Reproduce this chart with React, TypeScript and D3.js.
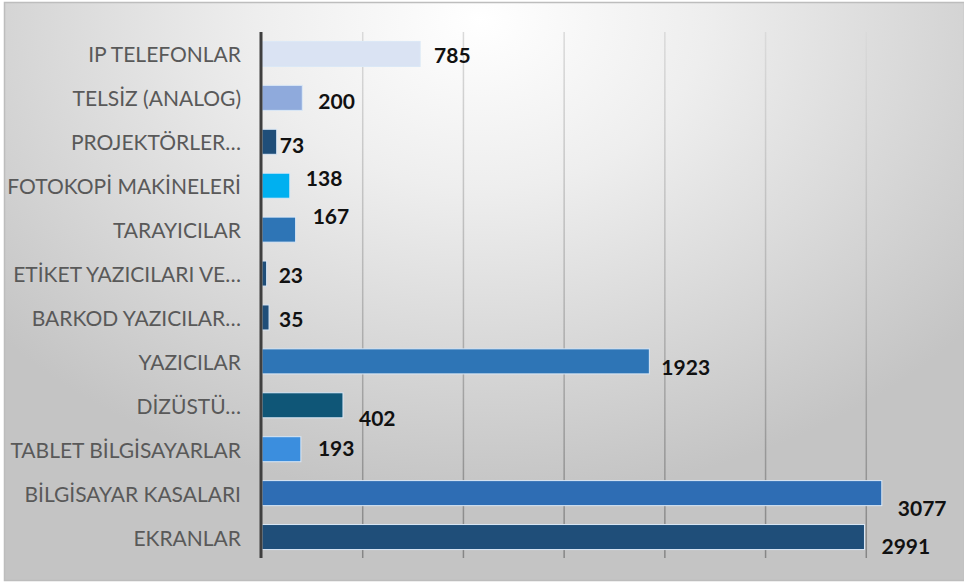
import React from "react";
import * as d3 from "d3";

const categories = [
  "IP TELEFONLAR",
  "TELSİZ (ANALOG)",
  "PROJEKTÖRLER…",
  "FOTOKOPİ MAKİNELERİ",
  "TARAYICILAR",
  "ETİKET YAZICILARI VE…",
  "BARKOD YAZICILAR…",
  "YAZICILAR",
  "DİZÜSTÜ…",
  "TABLET BİLGİSAYARLAR",
  "BİLGİSAYAR KASALARI",
  "EKRANLAR",
];
const values = [785, 200, 73, 138, 167, 23, 35, 1923, 402, 193, 3077, 2991];
const barColors = [
  "#dae3f3", "#8faadc", "#1f4e79", "#00b0f0", "#2e75b6", "#1f4e79",
  "#1f4e79", "#2e75b6", "#0f5677", "#3b8ede", "#2e6db4", "#1f4e79",
];
// label nudges (gap after bar end, vertical offset), as placed in the original
const labelGap = [14, 16, 3, 16, 17, 12, 10, 12, 16, 17, 16, 17];
const labelDy = [1, 3, 3, -8, -14, 1, 1.5, 5, 12, -2, 14, 8];
const gridTicks = [500, 1000, 1500, 2000, 2500, 3000];

const W = 964;
const H = 584;

export default function App() {
  const x = d3.scaleLinear().domain([0, 3500]).range([262, 967]);
  const y = d3.scaleBand().domain(categories).range([32, 559]).paddingInner(0.43).paddingOuter(0.215);
  const bw = y.bandwidth();

  return (
    <svg width={W} height={H} style={{ position: "absolute", left: 0, top: 0 }}>
      <defs>
        <radialGradient id="bg" cx="480" cy="20" r="640" gradientUnits="userSpaceOnUse"
          gradientTransform="translate(480 20) scale(1 0.75) translate(-480 -20)">
          <stop offset="0" stopColor="#ffffff" />
          <stop offset="0.35" stopColor="#eeeeee" />
          <stop offset="1" stopColor="#c4c4c4" />
        </radialGradient>
        <linearGradient id="grid" x1="0" y1="32" x2="0" y2="560" gradientUnits="userSpaceOnUse">
          <stop offset="0" stopColor="#dadada" />
          <stop offset="0.5" stopColor="#b4b4b4" />
          <stop offset="1" stopColor="#858585" />
        </linearGradient>
      </defs>
      <rect x={0} y={0} width={W} height={H} fill="#ffffff" />
      <rect x={4.5} y={2.5} width={W - 4} height={H - 6} fill="url(#bg)" stroke="#bdbdbd" strokeWidth={1.5} />

      {gridTicks.map((t) => (
        <line key={t} x1={x(t)} x2={x(t)} y1={32} y2={558} stroke="url(#grid)" strokeWidth={1.5} />
      ))}

      {categories.map((c, i) => (
        <rect
          key={c}
          x={x(0)}
          y={y(c)!}
          width={x(values[i]) - x(0)}
          height={bw}
          fill={barColors[i]}
          stroke="#dbe8f6"
          strokeWidth={1}
        />
      ))}

      <line x1={261} x2={261} y1={32} y2={558} stroke="#3f3f3f" strokeWidth={3} />

      {categories.map((c) => (
        <text
          key={"l" + c}
          x={241}
          y={y(c)! + bw / 2}
          textAnchor="end"
          dominantBaseline="central"
          fontFamily="Lato, sans-serif"
          fontSize={21}
          fill="#595959"
        >
          {c}
        </text>
      ))}

      {categories.map((c, i) => (
        <text
          key={"v" + c}
          x={x(values[i]) + labelGap[i]}
          y={y(c)! + bw / 2 + labelDy[i]}
          dominantBaseline="central"
          fontFamily="Lato, sans-serif"
          fontWeight="bold"
          fontSize={21}
          fill="#111111"
        >
          {values[i]}
        </text>
      ))}
    </svg>
  );
}
